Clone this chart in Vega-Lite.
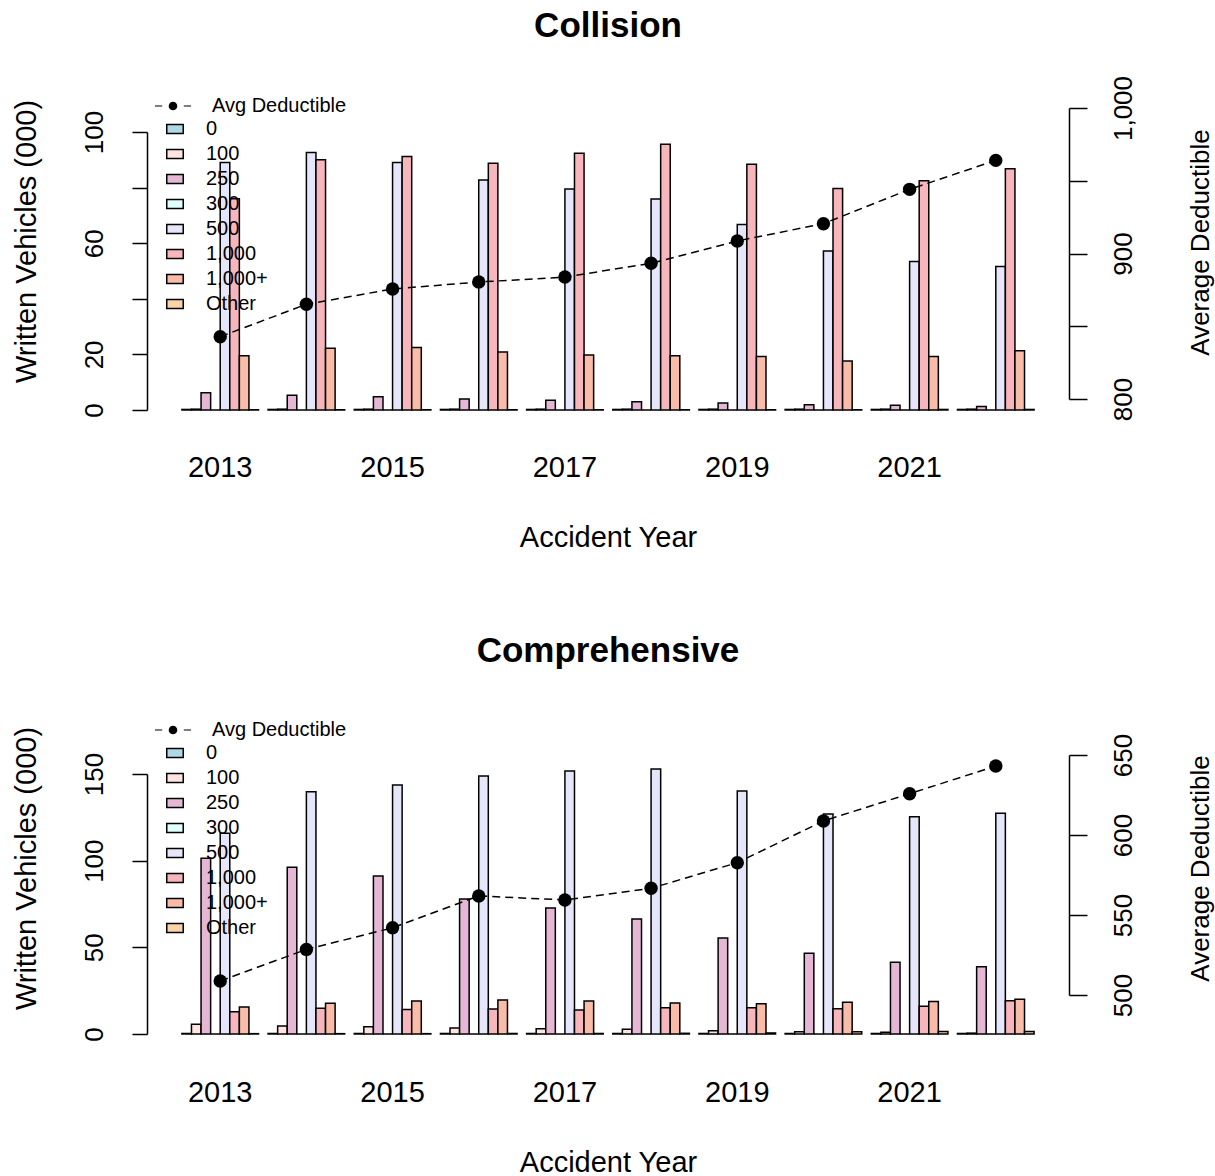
{
  "$schema": "https://vega.github.io/schema/vega-lite/v6.json",
  "padding": {"left": 11, "top": 9, "right": 5, "bottom": 5},
  "background": "white",
  "datasets": {
    "colBars": [
      {"year": 2013, "ded": "0", "value": 0.2}, {"year": 2013, "ded": "100", "value": 0.3}, {"year": 2013, "ded": "250", "value": 6.2}, {"year": 2013, "ded": "300", "value": 0}, {"year": 2013, "ded": "500", "value": 89.0}, {"year": 2013, "ded": "1,000", "value": 76.0}, {"year": 2013, "ded": "1,000+", "value": 19.5}, {"year": 2013, "ded": "Other", "value": 0.1},
      {"year": 2014, "ded": "0", "value": 0.2}, {"year": 2014, "ded": "100", "value": 0.3}, {"year": 2014, "ded": "250", "value": 5.3}, {"year": 2014, "ded": "300", "value": 0}, {"year": 2014, "ded": "500", "value": 92.6}, {"year": 2014, "ded": "1,000", "value": 90.0}, {"year": 2014, "ded": "1,000+", "value": 22.2}, {"year": 2014, "ded": "Other", "value": 0.1},
      {"year": 2015, "ded": "0", "value": 0.2}, {"year": 2015, "ded": "100", "value": 0.3}, {"year": 2015, "ded": "250", "value": 4.8}, {"year": 2015, "ded": "300", "value": 0}, {"year": 2015, "ded": "500", "value": 89.0}, {"year": 2015, "ded": "1,000", "value": 91.2}, {"year": 2015, "ded": "1,000+", "value": 22.5}, {"year": 2015, "ded": "Other", "value": 0.1},
      {"year": 2016, "ded": "0", "value": 0.2}, {"year": 2016, "ded": "100", "value": 0.3}, {"year": 2016, "ded": "250", "value": 4.0}, {"year": 2016, "ded": "300", "value": 0}, {"year": 2016, "ded": "500", "value": 82.7}, {"year": 2016, "ded": "1,000", "value": 88.8}, {"year": 2016, "ded": "1,000+", "value": 20.9}, {"year": 2016, "ded": "Other", "value": 0.1},
      {"year": 2017, "ded": "0", "value": 0.2}, {"year": 2017, "ded": "100", "value": 0.3}, {"year": 2017, "ded": "250", "value": 3.5}, {"year": 2017, "ded": "300", "value": 0}, {"year": 2017, "ded": "500", "value": 79.5}, {"year": 2017, "ded": "1,000", "value": 92.4}, {"year": 2017, "ded": "1,000+", "value": 19.8}, {"year": 2017, "ded": "Other", "value": 0.1},
      {"year": 2018, "ded": "0", "value": 0.2}, {"year": 2018, "ded": "100", "value": 0.3}, {"year": 2018, "ded": "250", "value": 3.0}, {"year": 2018, "ded": "300", "value": 0}, {"year": 2018, "ded": "500", "value": 75.9}, {"year": 2018, "ded": "1,000", "value": 95.6}, {"year": 2018, "ded": "1,000+", "value": 19.5}, {"year": 2018, "ded": "Other", "value": 0.1},
      {"year": 2019, "ded": "0", "value": 0.2}, {"year": 2019, "ded": "100", "value": 0.3}, {"year": 2019, "ded": "250", "value": 2.5}, {"year": 2019, "ded": "300", "value": 0}, {"year": 2019, "ded": "500", "value": 66.7}, {"year": 2019, "ded": "1,000", "value": 88.4}, {"year": 2019, "ded": "1,000+", "value": 19.2}, {"year": 2019, "ded": "Other", "value": 0.1},
      {"year": 2020, "ded": "0", "value": 0.2}, {"year": 2020, "ded": "100", "value": 0.3}, {"year": 2020, "ded": "250", "value": 1.9}, {"year": 2020, "ded": "300", "value": 0}, {"year": 2020, "ded": "500", "value": 57.2}, {"year": 2020, "ded": "1,000", "value": 79.7}, {"year": 2020, "ded": "1,000+", "value": 17.6}, {"year": 2020, "ded": "Other", "value": 0.1},
      {"year": 2021, "ded": "0", "value": 0.2}, {"year": 2021, "ded": "100", "value": 0.3}, {"year": 2021, "ded": "250", "value": 1.7}, {"year": 2021, "ded": "300", "value": 0}, {"year": 2021, "ded": "500", "value": 53.4}, {"year": 2021, "ded": "1,000", "value": 82.5}, {"year": 2021, "ded": "1,000+", "value": 19.2}, {"year": 2021, "ded": "Other", "value": 0.2},
      {"year": 2022, "ded": "0", "value": 0.2}, {"year": 2022, "ded": "100", "value": 0.3}, {"year": 2022, "ded": "250", "value": 1.3}, {"year": 2022, "ded": "300", "value": 0}, {"year": 2022, "ded": "500", "value": 51.6}, {"year": 2022, "ded": "1,000", "value": 86.8}, {"year": 2022, "ded": "1,000+", "value": 21.3}, {"year": 2022, "ded": "Other", "value": 0.2}
    ],
    "colAvg": [
      {"year": 2013, "avg": 842.8, "series": "Avg Deductible"}, {"year": 2014, "avg": 865.1, "series": "Avg Deductible"}, {"year": 2015, "avg": 875.6, "series": "Avg Deductible"}, {"year": 2016, "avg": 880.4, "series": "Avg Deductible"}, {"year": 2017, "avg": 883.8, "series": "Avg Deductible"}, {"year": 2018, "avg": 893.3, "series": "Avg Deductible"}, {"year": 2019, "avg": 908.6, "series": "Avg Deductible"}, {"year": 2020, "avg": 920.5, "series": "Avg Deductible"}, {"year": 2021, "avg": 944.1, "series": "Avg Deductible"}, {"year": 2022, "avg": 964.0, "series": "Avg Deductible"}
    ],
    "compBars": [
      {"year": 2013, "ded": "0", "value": 0.3}, {"year": 2013, "ded": "100", "value": 5.6}, {"year": 2013, "ded": "250", "value": 101.4}, {"year": 2013, "ded": "300", "value": 0}, {"year": 2013, "ded": "500", "value": 115.8}, {"year": 2013, "ded": "1,000", "value": 12.9}, {"year": 2013, "ded": "1,000+", "value": 15.6}, {"year": 2013, "ded": "Other", "value": 0.2},
      {"year": 2014, "ded": "0", "value": 0.3}, {"year": 2014, "ded": "100", "value": 4.6}, {"year": 2014, "ded": "250", "value": 96.2}, {"year": 2014, "ded": "300", "value": 0}, {"year": 2014, "ded": "500", "value": 139.8}, {"year": 2014, "ded": "1,000", "value": 14.8}, {"year": 2014, "ded": "1,000+", "value": 17.7}, {"year": 2014, "ded": "Other", "value": 0.2},
      {"year": 2015, "ded": "0", "value": 0.3}, {"year": 2015, "ded": "100", "value": 4.2}, {"year": 2015, "ded": "250", "value": 91.2}, {"year": 2015, "ded": "300", "value": 0}, {"year": 2015, "ded": "500", "value": 143.7}, {"year": 2015, "ded": "1,000", "value": 14.2}, {"year": 2015, "ded": "1,000+", "value": 19.0}, {"year": 2015, "ded": "Other", "value": 0.2},
      {"year": 2016, "ded": "0", "value": 0.3}, {"year": 2016, "ded": "100", "value": 3.5}, {"year": 2016, "ded": "250", "value": 77.9}, {"year": 2016, "ded": "300", "value": 0}, {"year": 2016, "ded": "500", "value": 148.9}, {"year": 2016, "ded": "1,000", "value": 14.4}, {"year": 2016, "ded": "1,000+", "value": 19.6}, {"year": 2016, "ded": "Other", "value": 0.3},
      {"year": 2017, "ded": "0", "value": 0.3}, {"year": 2017, "ded": "100", "value": 3.0}, {"year": 2017, "ded": "250", "value": 72.7}, {"year": 2017, "ded": "300", "value": 0}, {"year": 2017, "ded": "500", "value": 151.8}, {"year": 2017, "ded": "1,000", "value": 13.8}, {"year": 2017, "ded": "1,000+", "value": 19.0}, {"year": 2017, "ded": "Other", "value": 0.3},
      {"year": 2018, "ded": "0", "value": 0.3}, {"year": 2018, "ded": "100", "value": 2.7}, {"year": 2018, "ded": "250", "value": 66.4}, {"year": 2018, "ded": "300", "value": 0}, {"year": 2018, "ded": "500", "value": 152.9}, {"year": 2018, "ded": "1,000", "value": 15.2}, {"year": 2018, "ded": "1,000+", "value": 17.9}, {"year": 2018, "ded": "Other", "value": 0.4},
      {"year": 2019, "ded": "0", "value": 0.3}, {"year": 2019, "ded": "100", "value": 1.9}, {"year": 2019, "ded": "250", "value": 55.4}, {"year": 2019, "ded": "300", "value": 0}, {"year": 2019, "ded": "500", "value": 140.2}, {"year": 2019, "ded": "1,000", "value": 15.2}, {"year": 2019, "ded": "1,000+", "value": 17.5}, {"year": 2019, "ded": "Other", "value": 0.6},
      {"year": 2020, "ded": "0", "value": 0.3}, {"year": 2020, "ded": "100", "value": 1.3}, {"year": 2020, "ded": "250", "value": 46.6}, {"year": 2020, "ded": "300", "value": 0}, {"year": 2020, "ded": "500", "value": 126.9}, {"year": 2020, "ded": "1,000", "value": 14.6}, {"year": 2020, "ded": "1,000+", "value": 18.3}, {"year": 2020, "ded": "Other", "value": 1.3},
      {"year": 2021, "ded": "0", "value": 0.3}, {"year": 2021, "ded": "100", "value": 1.0}, {"year": 2021, "ded": "250", "value": 41.4}, {"year": 2021, "ded": "300", "value": 0}, {"year": 2021, "ded": "500", "value": 125.4}, {"year": 2021, "ded": "1,000", "value": 16.0}, {"year": 2021, "ded": "1,000+", "value": 18.7}, {"year": 2021, "ded": "Other", "value": 1.4},
      {"year": 2022, "ded": "0", "value": 0.3}, {"year": 2022, "ded": "100", "value": 0.5}, {"year": 2022, "ded": "250", "value": 38.8}, {"year": 2022, "ded": "300", "value": 0}, {"year": 2022, "ded": "500", "value": 127.3}, {"year": 2022, "ded": "1,000", "value": 19.2}, {"year": 2022, "ded": "1,000+", "value": 20.0}, {"year": 2022, "ded": "Other", "value": 1.4}
    ],
    "compAvg": [
      {"year": 2013, "avg": 508.8, "series": "Avg Deductible"}, {"year": 2014, "avg": 528.5, "series": "Avg Deductible"}, {"year": 2015, "avg": 542.0, "series": "Avg Deductible"}, {"year": 2016, "avg": 561.9, "series": "Avg Deductible"}, {"year": 2017, "avg": 559.4, "series": "Avg Deductible"}, {"year": 2018, "avg": 566.7, "series": "Avg Deductible"}, {"year": 2019, "avg": 582.7, "series": "Avg Deductible"}, {"year": 2020, "avg": 608.8, "series": "Avg Deductible"}, {"year": 2021, "avg": 625.8, "series": "Avg Deductible"}, {"year": 2022, "avg": 643.1, "series": "Avg Deductible"}
    ]
  },
  "spacing": 265,
  "bounds": "flush",
  "vconcat": [
    {
      "title": {"text": "Collision", "fontSize": 35, "fontWeight": "bold", "baseline": "alphabetic", "offset": -11, "anchor": "middle", "font": "Liberation Sans", "color": "black"},
      "width": 922,
      "height": 360,
      "layer": [
        {
          "data": {"name": "colBars"},
          "mark": {"type": "bar", "stroke": "black", "strokeWidth": 1.5, "opacity": 1},
          "encoding": {
            "x": {"field": "year", "type": "ordinal", "scale": {"paddingInner": 0.111, "paddingOuter": 0.405},
                  "axis": {"values": [2013, 2015, 2017, 2019, 2021], "domain": false, "ticks": false, "tickSize": 0, "labelAngle": 0, "labelFontSize": 29, "labelBaseline": "alphabetic", "labelPadding": 55, "labelOverlap": false, "title": "Accident Year", "titleFontSize": 29, "titleBaseline": "alphabetic", "titleY": 125, "titleX": 461, "titleAlign": "center"}},
            "xOffset": {"field": "ded", "type": "nominal", "scale": {"domain": ["0", "100", "250", "300", "500", "1,000", "1,000+", "Other"], "paddingInner": 0, "paddingOuter": 0}},
            "y": {"field": "value", "type": "quantitative", "scale": {"domain": [0, 100], "range": [349, 71], "nice": false},
                  "axis": {"values": [0, 20, 40, 60, 80, 100], "labelExpr": "datum.value == 40 || datum.value == 80 ? '' : datum.label", "labelAngle": -90, "labelAlign": "center", "labelBaseline": "alphabetic", "labelFontSize": 26, "tickSize": 15, "labelPadding": 30, "labelOverlap": false, "labelFlush": false, "title": "Written Vehicles (000)", "titleFontSize": 29, "titleAngle": -90, "titleBaseline": "alphabetic", "titleAlign": "center", "titleX": -112, "titleY": 180}},
            "fill": {"field": "ded", "type": "nominal", "scale": {"domain": ["0", "100", "250", "300", "500", "1,000", "1,000+", "Other"], "range": ["#ADD8E6", "#FFE4E1", "#E5B7D5", "#E0FFFF", "#E6E6FA", "#F7B5BC", "#F9BCA8", "#FDD2A6"]},
                     "legend": {"orient": "none", "legendX": 18, "legendY": 58, "title": null, "padding": 0, "rowPadding": 5, "labelFontSize": 20, "labelOffset": 21, "labelColor": "black", "symbolType": "M-1,-0.55H1V0.55H-1Z", "symbolSize": 272, "symbolStrokeColor": "black", "symbolStrokeWidth": 1.5,
                                "encode": {"symbols": {"update": {"stroke": {"value": "black"}, "strokeWidth": {"value": 1.5}}}}}}
          }
        },
        {
          "data": {"name": "colAvg"},
          "encoding": {
            "x": {"field": "year", "type": "ordinal", "scale": {"paddingInner": 0.111, "paddingOuter": 0.405},
                  "axis": {"values": [2013, 2015, 2017, 2019, 2021], "domain": false, "ticks": false, "tickSize": 0, "labelAngle": 0, "labelFontSize": 29, "labelBaseline": "alphabetic", "labelPadding": 55, "labelOverlap": false, "title": "Accident Year", "titleFontSize": 29, "titleBaseline": "alphabetic", "titleY": 125, "titleX": 461, "titleAlign": "center"}},
            "y": {"field": "avg", "type": "quantitative", "scale": {"domain": [800, 1000], "range": [338, 47], "nice": false, "zero": false},
                  "axis": {"orient": "right", "values": [800, 850, 900, 950, 1000], "format": ",.0f", "labelExpr": "datum.value == 850 || datum.value == 950 ? '' : datum.label", "labelAngle": -90, "labelAlign": "center", "labelBaseline": "alphabetic", "labelFontSize": 26, "tickSize": 18, "labelPadding": 44, "labelOverlap": false, "labelFlush": false, "title": "Average Deductible", "titleFontSize": 26, "titleAngle": -90, "titleBaseline": "alphabetic", "titleAlign": "center", "titleX": 139, "titleY": 181}}
          },
          "layer": [
            {"mark": {"type": "line", "color": "black", "strokeWidth": 1.5, "strokeDash": [8, 5]}},
            {"mark": {"type": "point", "filled": true, "color": "black", "size": 180, "opacity": 1}},
            {"transform": [{"filter": "false"}],
             "mark": {"type": "point", "filled": true, "color": "black", "size": 1296, "opacity": 1},
             "encoding": {"shape": {"field": "series", "type": "nominal", "scale": {"domain": ["Avg Deductible"], "range": ["M-1,-0.022H-0.6V0.022H-1Z M0.6,-0.022H1V0.022H0.6Z M0.24,0A0.24,0.24 0 1,1 -0.24,0A0.24,0.24 0 1,1 0.24,0Z"]},
                                    "legend": {"orient": "none", "legendX": 7, "legendY": 26, "title": null, "padding": 0, "labelFontSize": 20, "labelOffset": 20, "labelColor": "black", "symbolSize": 1296, "symbolFillColor": "black",
                                               "encode": {"symbols": {"update": {"size": {"value": 1296}, "fill": {"value": "black"}, "opacity": {"value": 1}}}}}}}}
          ]
        }
      ],
      "resolve": {"scale": {"y": "independent"}, "axis": {"y": "independent"}}
    },
    {
      "title": {"text": "Comprehensive", "fontSize": 35, "fontWeight": "bold", "baseline": "alphabetic", "offset": -11, "anchor": "middle", "font": "Liberation Sans", "color": "black"},
      "width": 922,
      "height": 360,
      "layer": [
        {
          "data": {"name": "compBars"},
          "mark": {"type": "bar", "stroke": "black", "strokeWidth": 1.5, "opacity": 1},
          "encoding": {
            "x": {"field": "year", "type": "ordinal", "scale": {"paddingInner": 0.111, "paddingOuter": 0.405},
                  "axis": {"values": [2013, 2015, 2017, 2019, 2021], "domain": false, "ticks": false, "tickSize": 0, "labelAngle": 0, "labelFontSize": 29, "labelBaseline": "alphabetic", "labelPadding": 55, "labelOverlap": false, "title": "Accident Year", "titleFontSize": 29, "titleBaseline": "alphabetic", "titleY": 125, "titleX": 461, "titleAlign": "center"}},
            "xOffset": {"field": "ded", "type": "nominal", "scale": {"domain": ["0", "100", "250", "300", "500", "1,000", "1,000+", "Other"], "paddingInner": 0, "paddingOuter": 0}},
            "y": {"field": "value", "type": "quantitative", "scale": {"domain": [0, 150], "range": [348, 88], "nice": false},
                  "axis": {"values": [0, 50, 100, 150], "labelAngle": -90, "labelAlign": "center", "labelBaseline": "alphabetic", "labelFontSize": 26, "tickSize": 15, "labelPadding": 30, "labelOverlap": false, "labelFlush": false, "title": "Written Vehicles (000)", "titleFontSize": 29, "titleAngle": -90, "titleBaseline": "alphabetic", "titleAlign": "center", "titleX": -112, "titleY": 182}},
            "fill": {"field": "ded", "type": "nominal", "scale": {"domain": ["0", "100", "250", "300", "500", "1,000", "1,000+", "Other"], "range": ["#ADD8E6", "#FFE4E1", "#E5B7D5", "#E0FFFF", "#E6E6FA", "#F7B5BC", "#F9BCA8", "#FDD2A6"]},
                     "legend": {"orient": "none", "legendX": 18, "legendY": 57, "title": null, "padding": 0, "rowPadding": 5, "labelFontSize": 20, "labelOffset": 21, "labelColor": "black", "symbolType": "M-1,-0.55H1V0.55H-1Z", "symbolSize": 272, "symbolStrokeColor": "black", "symbolStrokeWidth": 1.5,
                                "encode": {"symbols": {"update": {"stroke": {"value": "black"}, "strokeWidth": {"value": 1.5}}}}}}
          }
        },
        {
          "data": {"name": "compAvg"},
          "encoding": {
            "x": {"field": "year", "type": "ordinal", "scale": {"paddingInner": 0.111, "paddingOuter": 0.405},
                  "axis": {"values": [2013, 2015, 2017, 2019, 2021], "domain": false, "ticks": false, "tickSize": 0, "labelAngle": 0, "labelFontSize": 29, "labelBaseline": "alphabetic", "labelPadding": 55, "labelOverlap": false, "title": "Accident Year", "titleFontSize": 29, "titleBaseline": "alphabetic", "titleY": 125, "titleX": 461, "titleAlign": "center"}},
            "y": {"field": "avg", "type": "quantitative", "scale": {"domain": [500, 650], "range": [309, 69], "nice": false, "zero": false},
                  "axis": {"orient": "right", "values": [500, 550, 600, 650], "format": ",.0f", "labelAngle": -90, "labelAlign": "center", "labelBaseline": "alphabetic", "labelFontSize": 26, "tickSize": 18, "labelPadding": 44, "labelOverlap": false, "labelFlush": false, "title": "Average Deductible", "titleFontSize": 26, "titleAngle": -90, "titleBaseline": "alphabetic", "titleAlign": "center", "titleX": 139, "titleY": 182}}
          },
          "layer": [
            {"mark": {"type": "line", "color": "black", "strokeWidth": 1.5, "strokeDash": [8, 5]}},
            {"mark": {"type": "point", "filled": true, "color": "black", "size": 180, "opacity": 1}},
            {"transform": [{"filter": "false"}],
             "mark": {"type": "point", "filled": true, "color": "black", "size": 1296, "opacity": 1},
             "encoding": {"shape": {"field": "series", "type": "nominal", "scale": {"domain": ["Avg Deductible"], "range": ["M-1,-0.022H-0.6V0.022H-1Z M0.6,-0.022H1V0.022H0.6Z M0.24,0A0.24,0.24 0 1,1 -0.24,0A0.24,0.24 0 1,1 0.24,0Z"]},
                                    "legend": {"orient": "none", "legendX": 7, "legendY": 25, "title": null, "padding": 0, "labelFontSize": 20, "labelOffset": 20, "labelColor": "black", "symbolSize": 1296, "symbolFillColor": "black",
                                               "encode": {"symbols": {"update": {"size": {"value": 1296}, "fill": {"value": "black"}, "opacity": {"value": 1}}}}}}}}
          ]
        }
      ],
      "resolve": {"scale": {"y": "independent"}, "axis": {"y": "independent"}}
    }
  ],
  "resolve": {"scale": {"x": "independent", "y": "independent", "xOffset": "independent", "fill": "independent", "shape": "independent"}, "legend": {"fill": "independent", "shape": "independent"}},
  "config": {
    "font": "Liberation Sans",
    "view": {"stroke": null},
    "axis": {"grid": false, "domainColor": "black", "domainWidth": 1.5, "tickColor": "black", "tickWidth": 1.5, "labelColor": "black", "titleColor": "black", "titleFontWeight": "normal", "labelFont": "Liberation Sans", "titleFont": "Liberation Sans"},
    "legend": {"labelFont": "Liberation Sans", "labelLimit": 0}
  }
}
